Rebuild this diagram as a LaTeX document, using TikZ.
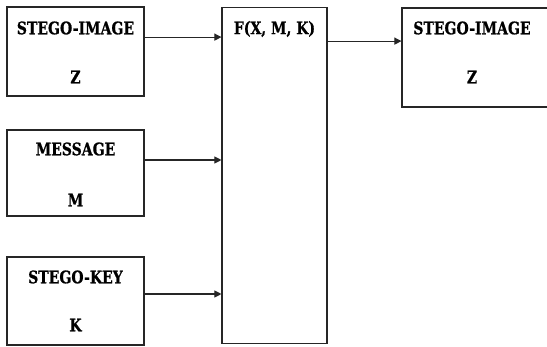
\documentclass[tikz,border=0pt]{standalone}
\usepackage{fontspec}
\newfontfamily\blkfont[FakeStretch=0.81, FakeBold=0.8]{DejaVu Serif Bold}
\usepackage{tikz}
\usetikzlibrary{positioning,arrows.meta}

\tikzset{
  blk/.style={draw=black!85, line width=0.75pt, inner sep=0pt, minimum width=3.425cm},
  ttl/.style={font=\blkfont\fontsize{12.3}{14}\selectfont, inner sep=0pt},
  arr/.style={draw=black!85, line width=0.75pt, -{Triangle[length=5pt,width=5pt]}}
}

\begin{document}
\begin{tikzpicture}[x=0.025cm, y=-0.025cm]
        \useasboundingbox (0,0) rectangle (547,347);
        % input blocks
        \node[blk, minimum height=2.225cm] (img) at (75.5,51.5) {};
        \node[blk, minimum height=2.15cm] (msg) at (75.5,173) {};
        \node[blk, minimum height=2.2cm] (key) at (75.5,301) {};
        \node[ttl] (imgT) at (75.5,28) {STEGO-IMAGE};
        \node[ttl] (imgZ) at (75.5,77) {Z};
        \node[ttl] (msgT) at (75.5,149) {MESSAGE};
        \node[ttl] (msgM) at (75.5,200) {M};
        \node[ttl] (keyT) at (75.5,277) {STEGO-KEY};
        \node[ttl] (keyK) at (75.5,325) {K};
        % embedding function
        \node[blk, minimum width=2.625cm, minimum height=8.375cm] (fun) at (274.5,175.5) {};
        \node[ttl] (funT) at (274.5,29) {F(X, M, K)};
        % output block
        \node[blk, minimum width=3.7cm, minimum height=2.475cm] (out) at (476,57.5) {};
        \node[ttl] (outT) at (472,28) {STEGO-IMAGE};
        \node[ttl] (outZ) at (472,77) {Z};
        % arrows
        \draw[arr] ([yshift=0.36cm]img.east) -- ([yshift=0.36cm]img.east -| fun.west);
        \draw[arr] ([yshift=0.325cm]msg.east) -- ([yshift=0.325cm]msg.east -| fun.west);
        \draw[arr] ([yshift=0.175cm]key.east) -- ([yshift=0.175cm]key.east -| fun.west);
        \draw[arr] ([yshift=0.41cm]out.west -| fun.east) -- ([yshift=0.41cm]out.west);
      \end{tikzpicture}
\end{document}
